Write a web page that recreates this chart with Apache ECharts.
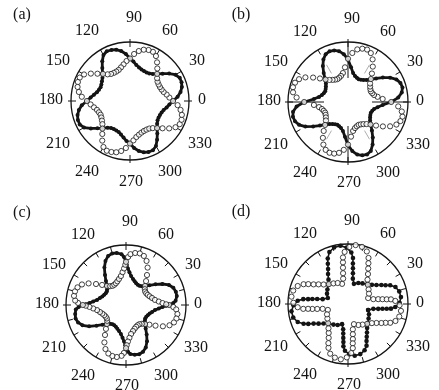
<!DOCTYPE html>
<html><head><meta charset="utf-8">
<script src="https://cdn.jsdelivr.net/npm/echarts@6/dist/echarts.min.js"></script>
<style>html,body{margin:0;padding:0;background:#fff}#c{width:439px;height:390px}</style>
</head><body><div id="c"></div>
<script>
// ---- tick labels / panel letters ----
const angleLabels = ['0','30','60','90','120','150','180','210','240','270','300','330'];
const panelLetters = ['(a)','(b)','(c)','(d)'];

// ---- sampling angles (deg) for panels a-b ----
const angles5 = [0,5,10,15,20,25,30,35,40,45,50,55,60,65,70,75,80,85,
 90,95,100,105,110,115,120,125,130,135,140,145,150,155,160,165,170,175,
 180,185,190,195,200,205,210,215,220,225,230,235,240,245,250,255,260,265,
 270,275,280,285,290,295,300,305,310,315,320,325,330,335,340,345,350,355];

// ---- panel (a) ----
const aFilled = [0.73,0.81,0.87,0.91,0.93,0.93,0.89,0.81,0.72,0.65,0.60,0.57,0.56,0.56,0.57,0.59,0.62,0.67,
 0.72,0.80,0.86,0.90,0.92,0.93,0.90,0.82,0.73,0.66,0.61,0.58,0.56,0.55,0.56,0.58,0.62,0.67,
 0.73,0.82,0.88,0.92,0.94,0.94,0.90,0.81,0.72,0.65,0.59,0.56,0.55,0.55,0.56,0.59,0.63,0.68,
 0.72,0.80,0.86,0.90,0.92,0.92,0.88,0.80,0.72,0.65,0.60,0.57,0.56,0.56,0.57,0.59,0.63,0.67];
const aOpen = [0.73,0.67,0.63,0.59,0.57,0.56,0.56,0.57,0.60,0.65,0.72,0.80,0.88,0.92,0.92,0.90,0.86,0.80,
 0.72,0.68,0.63,0.59,0.56,0.55,0.55,0.56,0.59,0.65,0.72,0.81,0.90,0.94,0.94,0.92,0.88,0.82,
 0.73,0.67,0.62,0.58,0.56,0.55,0.56,0.58,0.61,0.66,0.73,0.82,0.90,0.93,0.92,0.90,0.86,0.80,
 0.72,0.67,0.62,0.59,0.57,0.56,0.56,0.57,0.60,0.65,0.72,0.81,0.89,0.93,0.93,0.91,0.87,0.81];

// ---- panel (b) ----
const bFilled = [0.72,0.84,0.91,0.94,0.93,0.89,0.81,0.71,0.61,0.53,0.48,0.45,0.43,0.42,0.43,0.45,0.49,0.58,
 0.71,0.80,0.86,0.89,0.90,0.88,0.82,0.73,0.63,0.54,0.48,0.45,0.43,0.42,0.43,0.45,0.49,0.57,
 0.73,0.86,0.93,0.95,0.94,0.90,0.82,0.71,0.61,0.53,0.48,0.45,0.43,0.42,0.43,0.45,0.49,0.58,
 0.72,0.82,0.89,0.92,0.93,0.90,0.82,0.72,0.62,0.54,0.48,0.45,0.43,0.42,0.43,0.45,0.50,0.58];
const bOpen = [0.72,0.58,0.50,0.45,0.43,0.42,0.43,0.45,0.48,0.54,0.62,0.72,0.82,0.90,0.93,0.92,0.89,0.82,
 0.72,0.58,0.49,0.45,0.43,0.42,0.43,0.45,0.48,0.53,0.61,0.71,0.82,0.90,0.94,0.95,0.93,0.86,
 0.73,0.57,0.49,0.45,0.43,0.42,0.43,0.45,0.48,0.54,0.63,0.73,0.82,0.88,0.90,0.89,0.86,0.80,
 0.71,0.58,0.49,0.45,0.43,0.42,0.43,0.45,0.48,0.53,0.61,0.71,0.81,0.89,0.93,0.94,0.91,0.84];

// ---- panel (c): points (angle deg, radius) ----
const cFilledAngles = [0,2.5,5,10,15,20,25,30,35,40,45,50,55,60,65,70,75,80,84,87,89,
 90,92.5,95,100,105,110,115,120,125,130,135,140,145,150,155,160,165,170,174,177,179,
 180,182.5,185,190,195,200,205,210,215,220,225,230,235,240,245,250,255,260,264,267,269,
 270,272.5,275,280,285,290,295,300,305,310,315,320,325,330,335,340,345,350,354,357,359];
const cFilledR = [0.72,0.79,0.83,0.86,0.86,0.84,0.79,0.70,0.60,0.51,0.45,0.41,0.39,0.39,0.40,0.42,0.45,0.49,0.55,0.61,0.67,
 0.72,0.80,0.85,0.88,0.89,0.87,0.81,0.72,0.61,0.52,0.45,0.41,0.39,0.39,0.40,0.42,0.45,0.49,0.55,0.61,0.67,
 0.72,0.79,0.84,0.86,0.87,0.85,0.80,0.71,0.60,0.51,0.45,0.41,0.39,0.39,0.40,0.42,0.45,0.49,0.55,0.61,0.67,
 0.72,0.78,0.82,0.84,0.85,0.83,0.78,0.70,0.60,0.51,0.45,0.41,0.39,0.39,0.40,0.42,0.45,0.49,0.55,0.61,0.67];
const cOpenAngles = [0,357.5,355,350,345,340,335,330,325,320,315,310,305,300,295,290,285,280,276,273,271,
 270,267.5,265,260,255,250,245,240,235,230,225,220,215,210,205,200,195,190,186,183,181,
 180,177.5,175,170,165,160,155,150,145,140,135,130,125,120,115,110,105,100,96,93,91,
 90,87.5,85,80,75,70,65,60,55,50,45,40,35,30,25,20,15,10,6,3,1];
const cOpenR = [0.72,0.79,0.84,0.87,0.87,0.85,0.80,0.71,0.60,0.51,0.45,0.41,0.39,0.39,0.40,0.42,0.45,0.49,0.55,0.61,0.67,
 0.72,0.80,0.85,0.88,0.88,0.86,0.81,0.72,0.61,0.52,0.45,0.41,0.39,0.39,0.40,0.42,0.45,0.49,0.55,0.61,0.67,
 0.72,0.80,0.85,0.88,0.88,0.86,0.81,0.72,0.61,0.52,0.45,0.41,0.39,0.39,0.40,0.42,0.45,0.49,0.55,0.61,0.67,
 0.72,0.80,0.85,0.88,0.89,0.87,0.81,0.72,0.61,0.52,0.45,0.41,0.39,0.39,0.40,0.42,0.45,0.49,0.55,0.61,0.67];

// ---- panel (d): points (angle deg, radius) ----
const dFilledAngles = [343.6,349.2,350.9,352.1,353.1,353.8,356.3,1.3,7.4,13.8,19.7,24.0,26.6,29.7,33.7,38.7,45.9,54.8,63.8,
 73.6,79.2,80.9,82.1,83.1,83.8,86.3,91.3,97.4,103.8,109.7,114.0,116.6,119.7,123.7,128.7,135.9,144.8,153.8,
 163.6,169.2,170.9,172.1,173.1,173.8,176.3,181.3,187.4,193.8,199.7,204.0,206.6,209.7,213.7,218.7,225.9,234.8,243.8,
 253.6,259.2,260.9,262.1,263.1,263.8,266.3,271.3,277.4,283.8,289.7,294.0,296.6,299.7,303.7,308.7,315.9,324.8,333.8];
const dFilledR = [0.35,0.43,0.51,0.58,0.65,0.72,0.79,0.86,0.89,0.88,0.84,0.77,0.70,0.64,0.57,0.51,0.46,0.42,0.39,
 0.35,0.43,0.52,0.60,0.68,0.77,0.86,0.94,0.98,0.97,0.92,0.83,0.75,0.67,0.60,0.52,0.46,0.42,0.39,
 0.35,0.43,0.52,0.60,0.67,0.75,0.84,0.91,0.95,0.94,0.89,0.81,0.74,0.66,0.59,0.52,0.46,0.42,0.39,
 0.35,0.43,0.50,0.57,0.64,0.71,0.78,0.84,0.87,0.86,0.82,0.76,0.69,0.63,0.57,0.51,0.46,0.42,0.39];
const dOpenAngles = [16.4,10.8,9.1,7.9,6.9,6.2,3.7,358.7,352.6,346.2,340.3,336.0,333.4,330.3,326.3,321.3,314.1,305.2,296.2,
 106.4,100.8,99.1,97.9,96.9,96.2,93.7,88.7,82.6,76.2,70.3,66.0,63.4,60.3,56.3,51.3,44.1,35.2,26.2,
 196.4,190.8,189.1,187.9,186.9,186.2,183.7,178.7,172.6,166.2,160.3,156.0,153.4,150.3,146.3,141.3,134.1,125.2,116.2,
 286.4,280.8,279.1,277.9,276.9,276.2,273.7,268.7,262.6,256.2,250.3,246.0,243.4,240.3,236.3,231.3,224.1,215.2,206.2];
const dOpenR = [0.35,0.43,0.51,0.58,0.65,0.72,0.79,0.86,0.89,0.88,0.84,0.77,0.70,0.64,0.57,0.51,0.46,0.42,0.39,
 0.35,0.43,0.52,0.61,0.70,0.78,0.87,0.95,0.99,0.98,0.93,0.84,0.76,0.68,0.60,0.52,0.46,0.42,0.39,
 0.35,0.43,0.52,0.60,0.67,0.75,0.84,0.91,0.95,0.94,0.89,0.81,0.74,0.66,0.59,0.52,0.46,0.42,0.39,
 0.35,0.43,0.51,0.59,0.66,0.74,0.82,0.89,0.93,0.92,0.88,0.80,0.73,0.65,0.58,0.52,0.46,0.42,0.39];

// ---- layout (positions/styles only) ----
const panels = [
  {cx:130, cy:101, R:59, tick:30, letter:[22,15], spokes:false, fAng:angles5, fR:aFilled, oAng:angles5, oR:aOpen, lw:2.8, fs:4},
  {cx:348, cy:102, R:60, tick:30, letter:[241,15], spokes:true, fAng:angles5, fR:bFilled, oAng:angles5, oR:bOpen, lw:2.8, fs:4},
  {cx:126, cy:305, R:60, tick:15, letter:[22,213], spokes:false, fAng:cFilledAngles, fR:cFilledR, oAng:cOpenAngles, oR:cOpenR, lw:2.8, fs:4},
  {cx:348, cy:304, R:60, tick:15, letter:[241,212], spokes:false, fAng:dFilledAngles, fR:dFilledR, oAng:dOpenAngles, oR:dOpenR, lw:1.6, fs:4.6}
];
const labelOffsets = [[72,-1],[67,-40],[40,-70],[4,-83],[-43,-70],[-72,-40],[-79,-1],[-72,43],[-43,71],[1,81],[40,71],[70,43]];
const FONT = '16px "Liberation Serif", "DejaVu Serif", serif';
const INK = '#141414';

const option = {animation:false, backgroundColor:'#fff', polar:[], angleAxis:[], radiusAxis:[], series:[], graphic:{elements:[]}};
function addPolar(center, radius, cfg) {
  const idx = option.polar.length;
  option.polar.push({center: center, radius: radius});
  option.angleAxis.push(Object.assign({polarIndex: idx, type:'value', min:0, max:360, startAngle:0, clockwise:false,
    axisLabel:{show:false}, splitLine:{show:false}, axisTick:{show:false}, axisLine:{show:false}}, cfg));
  option.radiusAxis.push({polarIndex: idx, type:'value', min:0, max:1,
    axisLine:{show:false}, axisTick:{show:false}, axisLabel:{show:false}, splitLine:{show:false}});
  return idx;
}

panels.forEach((p, k) => {
  const c = [p.cx, p.cy];
  if (p.spokes) {
    addPolar(c, [Math.round(p.R*0.55), Math.round(p.R*0.72)], {interval:60, splitLine:{show:true, lineStyle:{color:'#8a8a8a', width:0.7}}});
    addPolar(c, [Math.round(p.R*0.40), p.R], {interval:90, splitLine:{show:true, lineStyle:{color:INK, width:1}}});
  }
  addPolar(c, p.R, {interval:90, axisTick:{show:true, inside:false, length:3, lineStyle:{color:INK, width:1}}});
  const main = addPolar(c, p.R, {interval:p.tick,
    axisLine:{show:true, lineStyle:{color:INK, width:1.3}},
    axisTick:{show:true, inside:true, length:5, lineStyle:{color:INK, width:1}}});
  const fData = p.fAng.map((t, i) => [p.fR[i], t]);
  fData.push(fData[0]);
  option.series.push({type:'line', coordinateSystem:'polar', polarIndex:main, data:fData,
    symbol:'circle', symbolSize:p.fs, showSymbol:true, smooth:false,
    itemStyle:{color:INK}, lineStyle:{color:INK, width:p.lw}, z:3, silent:true});
  option.series.push({type:'scatter', coordinateSystem:'polar', polarIndex:main,
    data:p.oAng.map((t, i) => [p.oR[i], t]),
    symbol:'circle', symbolSize:5.2, itemStyle:{color:'#fff', borderColor:INK, borderWidth:1}, z:4, silent:true});
  angleLabels.forEach((lab, j) => {
    option.graphic.elements.push({type:'text', x:p.cx + labelOffsets[j][0], y:p.cy + labelOffsets[j][1],
      style:{text:lab, font:FONT, fill:INK, textAlign:'center', textVerticalAlign:'middle', verticalAlign:'middle'}});
  });
  option.graphic.elements.push({type:'text', x:p.letter[0], y:p.letter[1],
    style:{text:panelLetters[k], font:FONT, fill:INK, textAlign:'center', textVerticalAlign:'middle', verticalAlign:'middle'}});
});

const chart = echarts.init(document.getElementById('c'), null, {renderer:'canvas'});
chart.setOption(option);
</script>
</body></html>
